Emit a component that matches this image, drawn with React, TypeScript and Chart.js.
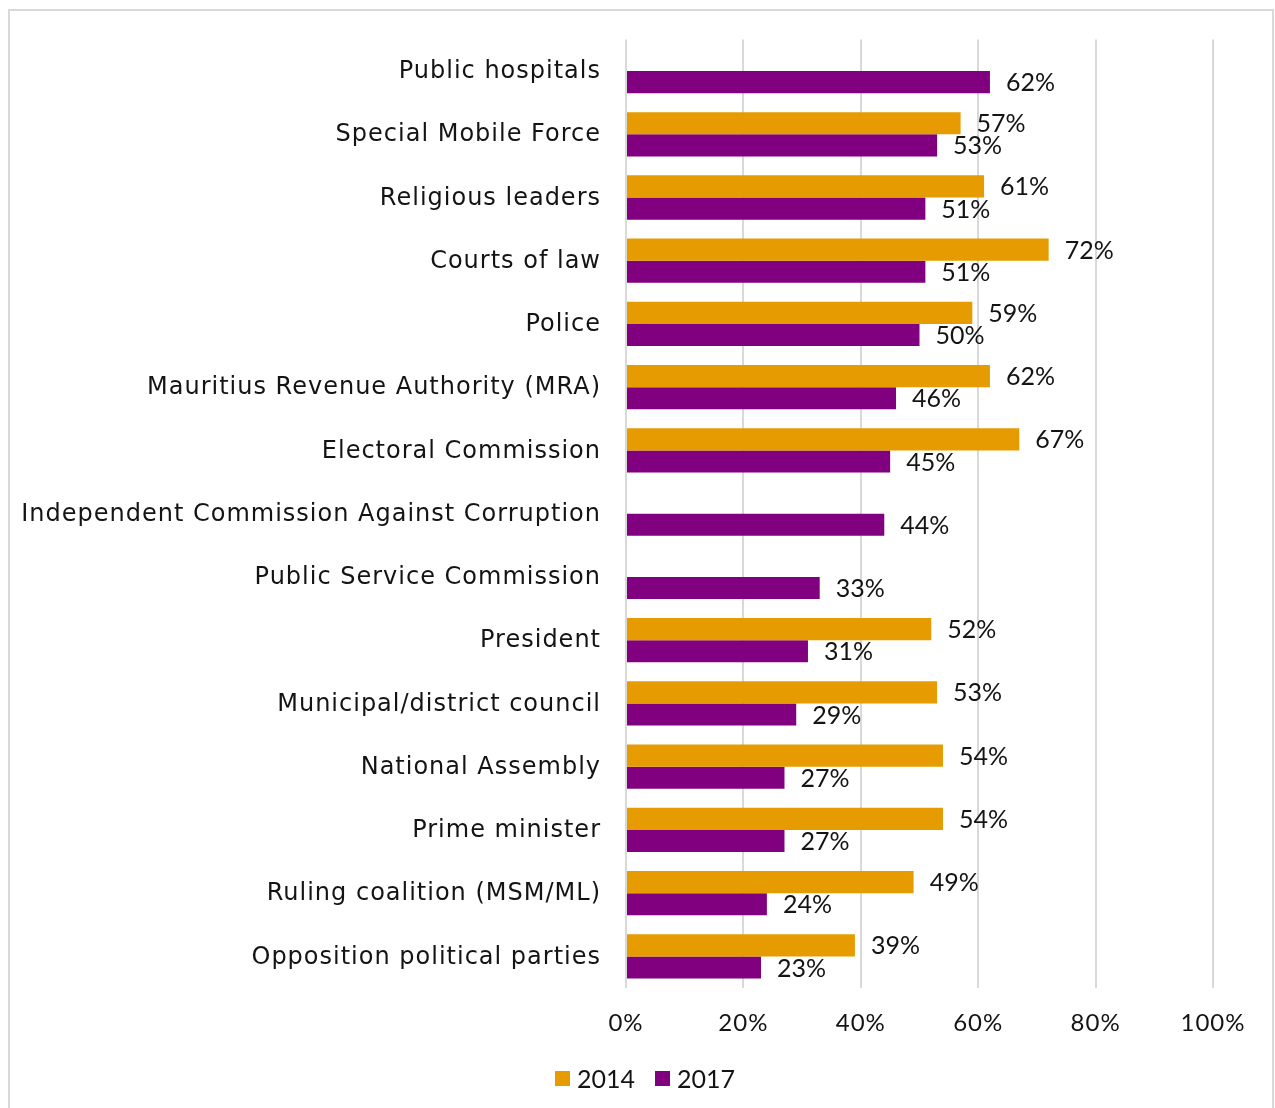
import React, { useEffect, useRef } from "react";
import { Chart, registerables } from "chart.js";

Chart.register(...registerables);

const categories = [
  "Public hospitals",
  "Special Mobile Force",
  "Religious leaders",
  "Courts of law",
  "Police",
  "Mauritius Revenue Authority (MRA)",
  "Electoral Commission",
  "Independent Commission Against Corruption",
  "Public Service Commission",
  "President",
  "Municipal/district council",
  "National Assembly",
  "Prime minister",
  "Ruling coalition (MSM/ML)",
  "Opposition political parties",
];

const values2014: (number | null)[] = [null, 57, 61, 72, 59, 62, 67, null, null, 52, 53, 54, 54, 49, 39];
const values2017: (number | null)[] = [62, 53, 51, 51, 50, 46, 45, 44, 33, 31, 29, 27, 27, 24, 23];

const seriesLabels = ["2014", "2017"];
const seriesColors = ["#E69C00", "#800080"];
const xTicks = [0, 20, 40, 60, 80, 100];

const NUM_FONT = "Lato, 'Open Sans', sans-serif";
const CAT_FONT = "'DejaVu Sans', sans-serif";
const TEXT_COLOR = "#141414";

const spacingPlugin = {
  id: "axisLetterSpacing",
  beforeDraw(chart: any) {
    chart.ctx.letterSpacing = "1px";
  },
  beforeDatasetsDraw(chart: any) {
    chart.ctx.letterSpacing = "0px";
  },
};

const valueLabelPlugin = {
  id: "valueLabels",
  afterDatasetsDraw(chart: any) {
    const ctx = chart.ctx;
    ctx.save();
    ctx.letterSpacing = "0px";
    ctx.font = `25px ${NUM_FONT}`;
    ctx.fillStyle = TEXT_COLOR;
    ctx.textAlign = "left";
    ctx.textBaseline = "middle";
    chart.data.datasets.forEach((ds: any, di: number) => {
      const meta = chart.getDatasetMeta(di);
      meta.data.forEach((el: any, i: number) => {
        const v = ds.data[i];
        if (v === null || v === undefined) return;
        ctx.fillText(`${v}%`, el.x + 16, el.y + 1);
      });
    });
    ctx.restore();
  },
};

const legendPlugin = {
  id: "customLegend",
  afterDraw(chart: any) {
    const ctx = chart.ctx;
    ctx.save();
    ctx.letterSpacing = "0px";
    ctx.font = `25px ${NUM_FONT}`;
    ctx.textBaseline = "middle";
    ctx.textAlign = "left";
    const box = 15;
    const gapBoxText = 7;
    const gapItems = 20;
    const items = chart.data.datasets.map((ds: any) => ({
      label: ds.label,
      color: ds.backgroundColor,
      w: box + gapBoxText + ctx.measureText(ds.label).width,
    }));
    const total = items.reduce((s: number, it: any) => s + it.w, 0) + gapItems * (items.length - 1);
    const cx = 645;
    const cy = 1078.5;
    let x = cx - total / 2;
    items.forEach((it: any) => {
      ctx.fillStyle = it.color;
      ctx.fillRect(x, cy - box / 2, box, box);
      ctx.fillStyle = TEXT_COLOR;
      ctx.fillText(it.label, x + box + gapBoxText, cy + 1);
      x += it.w + gapItems;
    });
    ctx.restore();
  },
};

export default function App() {
  const ref = useRef<HTMLCanvasElement | null>(null);
  useEffect(() => {
    if (!ref.current) return;
    const chart = new Chart(ref.current, {
      type: "bar",
      data: {
        labels: categories,
        datasets: [
          { label: seriesLabels[0], data: values2014, backgroundColor: seriesColors[0], borderWidth: 0 },
          { label: seriesLabels[1], data: values2017, backgroundColor: seriesColors[1], borderWidth: 0 },
        ],
      },
      options: {
        indexAxis: "y",
        animation: false,
        responsive: false,
        maintainAspectRatio: false,
        layout: { padding: { left: 0, right: 62, top: 39, bottom: 52 } },
        datasets: { bar: { categoryPercentage: 0.7, barPercentage: 1.0 } },
        scales: {
          x: {
            min: 0,
            max: 100,
            afterBuildTicks: (scale: any) => {
              scale.ticks = xTicks.map((v) => ({ value: v }));
            },
            afterFit: (scale: any) => {
              scale.height = 68;
            },
            grid: { color: "#d9d9d9", lineWidth: 2, drawTicks: false },
            border: { display: false },
            ticks: {
              padding: 21,
              color: TEXT_COLOR,
              font: { family: NUM_FONT, size: 24 },
              callback: (v: any) => `${v}%`,
            },
          },
          y: {
            afterFit: (scale: any) => {
              scale.width = 626;
            },
            grid: { display: false, drawTicks: false },
            border: { display: false },
            ticks: {
              padding: 25,
              labelOffset: 1,
              color: TEXT_COLOR,
              font: { family: CAT_FONT, size: 24 },
            },
          },
        },
        plugins: {
          legend: { display: false },
          tooltip: { enabled: false },
        },
      },
      plugins: [spacingPlugin, valueLabelPlugin, legendPlugin],
    });
    return () => chart.destroy();
  }, []);

  return (
    <div style={{ position: "absolute", left: 0, top: 0, width: 1275, height: 1108, background: "#fff", overflow: "hidden" }}>
      <div
        style={{
          position: "absolute",
          left: 8,
          top: 9,
          width: 1266,
          height: 1110,
          borderTop: "2px solid #d9d9d9",
          borderLeft: "2px solid #d9d9d9",
          borderRight: "2px solid #d9d9d9",
          boxSizing: "border-box",
        }}
      />
      <canvas ref={ref} width={1275} height={1108} style={{ position: "absolute", left: 0, top: 0 }} />
    </div>
  );
}
